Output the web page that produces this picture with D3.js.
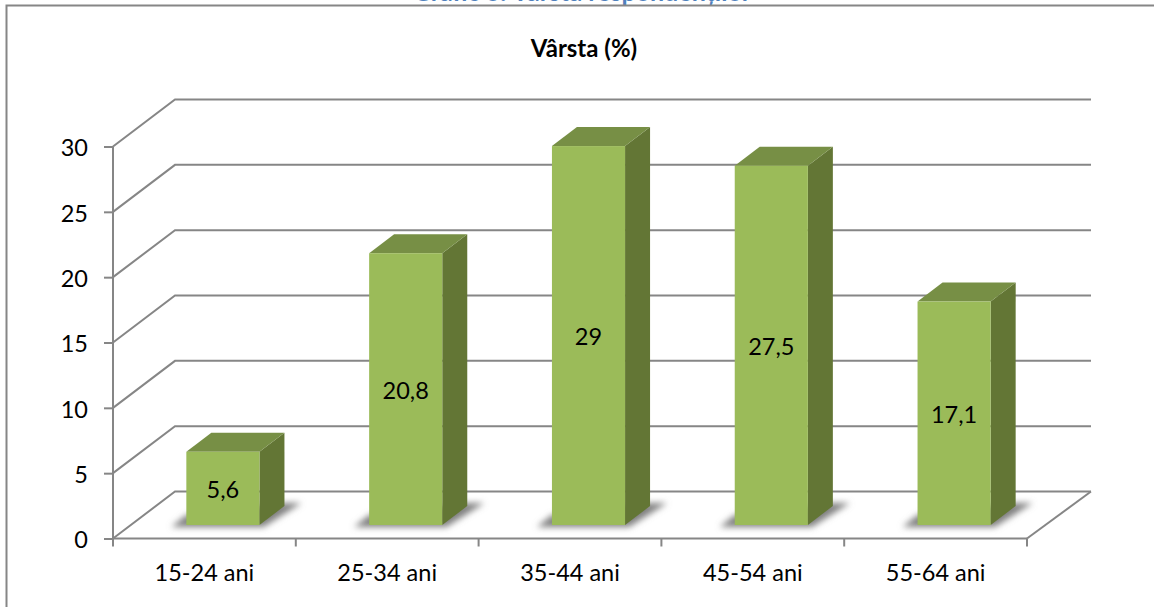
<!DOCTYPE html>
<html lang="ro">
<head>
    <meta charset="UTF-8">
    <title>Vârsta (%)</title>
    <script src="https://d3js.org/d3.v7.min.js"></script>
    <style>
        html, body { margin: 0; padding: 0; background: #fff; overflow: hidden; }
        svg { display: block; font-family: Lato, sans-serif; }
        .axis path { display: none; }
        .axis line, .grid { stroke: #868686; stroke-width: 2; fill: none; }
        .axis text { fill: #000; font-size: 23.5px; font-family: Lato, sans-serif; }
    </style>
</head>
<body>
<div id="chart"></div>
<script>
    // data
    var categories = ["15-24 ani", "25-34 ani", "35-44 ani", "45-54 ani", "55-64 ani"];
    var values = [5.6, 20.8, 29, 27.5, 17.1];
    var valueLabels = ["5,6", "20,8", "29", "27,5", "17,1"];
    var yTicks = [0, 5, 10, 15, 20, 25, 30];

    var width = 1154, height = 607;

    var y = d3.scaleLinear().domain([0, 30]).range([538.5, 146.5]);
    var x = d3.scaleBand().domain(categories).range([113, 1027]).paddingInner(0.6).paddingOuter(0.3);
    var xEdges = d3.scaleLinear().domain([0, categories.length]).range([113, 1027]);

    // fake 3d offsets
    var wall = {dx: 62, dy: -47};
    var front = {dx: 18.5, dy: -13.5};
    var depth = {dx: 25, dy: -19};

    var svg = d3.select("#chart").append("svg")
        .attr("width", width)
        .attr("height", height);

    var defs = svg.append("defs");
    defs.append("filter").attr("id", "blur")
        .attr("x", "-30%").attr("y", "-60%").attr("width", "160%").attr("height", "220%")
        .append("feGaussianBlur").attr("stdDeviation", 3.2);

    // clipped caption above the frame
    svg.append("text")
        .attr("x", 582).attr("y", 0.5)
        .attr("text-anchor", "middle")
        .attr("fill", "#4f81bd")
        .style("font-size", "25px")
        .style("font-weight", "700")
        .text("Grafic 6: Vârsta respondenților");

    // frame, open on the right where the crop cuts it
    svg.append("path")
        .attr("d", d3.line()([[1154, 5.5], [6.5, 5.5], [6.5, 607]]))
        .attr("fill", "none")
        .attr("stroke", "#868686")
        .attr("stroke-width", 2);

    svg.append("text")
        .attr("x", 584).attr("y", 57)
        .attr("text-anchor", "middle")
        .attr("fill", "#000")
        .style("font-size", "24px")
        .style("font-weight", "700")
        .text("Vârsta (%)");

    // walls
    svg.append("g").selectAll("path")
        .data(yTicks)
        .enter().append("path")
        .attr("class", "grid")
        .attr("d", function(d) {
            return d3.line()([
                [113, y(d)],
                [113 + wall.dx, y(d) + wall.dy],
                [1027 + wall.dx + 2, y(d) + wall.dy]
            ]);
        });

    // floor edge on the right
    svg.append("path")
        .attr("class", "grid")
        .attr("d", d3.line()([[1027, y(0)], [1027 + wall.dx + 2, y(0) + wall.dy]]));

    var yAxis = svg.append("g")
        .attr("class", "axis")
        .attr("transform", "translate(113,0)")
        .call(d3.axisLeft(y).tickValues(yTicks).tickSize(9).tickPadding(16).tickFormat(d3.format("d")));
    yAxis.selectAll("text").attr("dy", "0.4em");
    yAxis.append("line")
        .attr("y1", y(30)).attr("y2", y(0));

    var xAxis = svg.append("g")
        .attr("class", "axis")
        .attr("transform", "translate(0," + y(0) + ")")
        .call(d3.axisBottom(x).tickSize(0).tickPadding(26));
    xAxis.append("line")
        .attr("x1", xEdges(0)).attr("x2", xEdges(categories.length));
    xAxis.selectAll(".edge")
        .data(d3.range(categories.length + 1))
        .enter().append("line")
        .attr("class", "edge")
        .attr("x1", function(d) { return xEdges(d); })
        .attr("x2", function(d) { return xEdges(d); })
        .attr("y1", 0).attr("y2", 8);

    // bars
    var bars = svg.append("g").selectAll("g")
        .data(categories)
        .enter().append("g");

    function left(c) { return x(c) + front.dx; }
    function right(c) { return x(c) + x.bandwidth() + front.dx; }
    var base = y(0) + front.dy;

    bars.append("path")
        .attr("fill", "#808080")
        .attr("filter", "url(#blur)")
        .attr("d", function(c) {
            return d3.line()([
                [left(c) - 15, base + 2],
                [left(c), base - 10],
                [right(c) + 25, base - 22],
                [right(c) + 42, base - 22],
                [right(c) + 4, base + 2]
            ]) + "Z";
        });

    // side face
    bars.append("path")
        .attr("fill", "#637635")
        .attr("d", function(c, i) {
            var t = y(values[i]) + front.dy;
            return d3.line()([
                [right(c), t], [right(c) + depth.dx, t + depth.dy],
                [right(c) + depth.dx, base + depth.dy], [right(c), base]
            ]) + "Z";
        });

    // top face
    bars.append("path")
        .attr("fill", "#778f45")
        .attr("d", function(c, i) {
            var t = y(values[i]) + front.dy;
            return d3.line()([
                [left(c), t], [left(c) + depth.dx, t + depth.dy],
                [right(c) + depth.dx, t + depth.dy], [right(c), t]
            ]) + "Z";
        });

    // front face
    bars.append("rect")
        .attr("x", left)
        .attr("y", function(c, i) { return y(values[i]) + front.dy; })
        .attr("width", x.bandwidth())
        .attr("height", function(c, i) { return y(0) - y(values[i]); })
        .attr("fill", "#9bbb59");

    bars.append("text")
        .attr("x", function(c) { return left(c) + x.bandwidth() / 2; })
        .attr("y", function(c, i) { return (y(values[i]) + y(0)) / 2 + front.dy; })
        .attr("dy", "0.4em")
        .attr("text-anchor", "middle")
        .attr("fill", "#000")
        .style("font-size", "23.5px")
        .text(function(c, i) { return valueLabels[i]; });
</script>
</body>
</html>
